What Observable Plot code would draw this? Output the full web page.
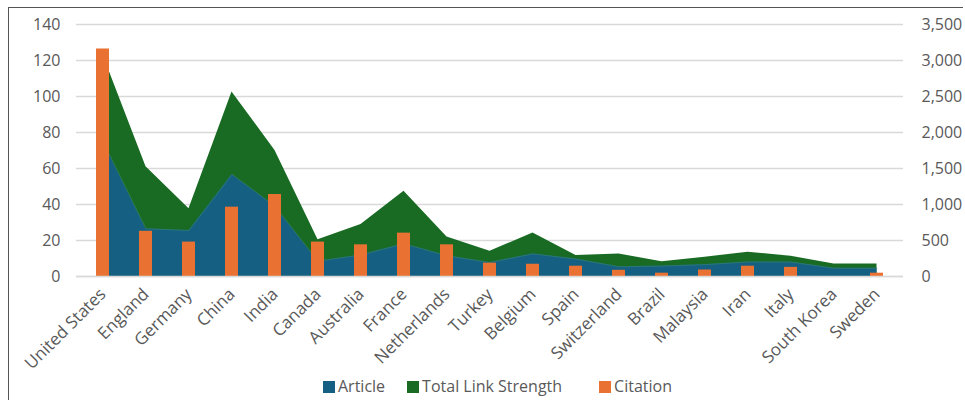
<!DOCTYPE html>
<html>
<head>
<meta charset="utf-8">
<script src="https://cdn.jsdelivr.net/npm/d3@7"></script>
<script src="https://cdn.jsdelivr.net/npm/@observablehq/plot@0.6"></script>
<style>
  html, body { margin: 0; padding: 0; background: #fff; }
  #frame { position: absolute; left: 8px; top: 7px; width: 955px; height: 400px;
           border-top: 1px solid #555; border-left: 1px solid #555; box-sizing: border-box; }
  #chart { position: absolute; left: 0; top: 0; }
  #legend { position: absolute; left: 15px; top: 376px; width: 965px; text-align: center; white-space: nowrap;
            font-family: "Open Sans", "Noto Sans", sans-serif; font-size: 16px; color: #595959; line-height: 20px; }
  #legend span.item { display: inline-block; }
  #legend span.sw { display: inline-block; width: 12px; height: 12px; margin-right: 3px; vertical-align: -1px; }
</style>
</head>
<body>
<div id="frame"></div>
<div id="chart"></div>
<div id="legend"></div>
<script>
const countries = ["United States","England","Germany","China","India","Canada","Australia","France","Netherlands","Turkey","Belgium","Spain","Switzerland","Brazil","Malaysia","Iran","Italy","South Korea","Sweden"];
const article = [75, 26.5, 25.6, 56.7, 39, 8.5, 12, 18.2, 11.5, 7.8, 12.6, 9.7, 5.4, 5.8, 6.6, 8.1, 8, 4.6, 4.6];
const totalLinkStrength = [123, 61, 37.6, 102.5, 70, 20.4, 28.9, 47.4, 21.9, 14, 24.2, 11.6, 12.5, 8.2, 10.7, 13.5, 11.2, 7, 7];
const citation = [3160, 628, 478, 963, 1139, 478, 440, 602, 440, 185, 170, 143, 86, 46, 90, 143, 127, 0, 46];
const leftTicks = [0, 20, 40, 60, 80, 100, 120, 140];
const rightMax = 3500, leftMax = 140;
const ratio = rightMax / leftMax;

const colors = {article: "#156082", tls: "#196B24", citation: "#E97132"};

const rows = countries.map((c, i) => ({country: c, article: article[i], tls: totalLinkStrength[i], citation: citation[i]}));

const plot = Plot.plot({
  width: 965,
  height: 374,
  marginLeft: 76,
  marginRight: 62,
  marginTop: 24,
  marginBottom: 98,
  style: {fontFamily: "'Open Sans', 'Noto Sans', sans-serif", fontSize: "16px", color: "#595959", background: "transparent"},
  x: {type: "band", domain: countries, padding: 0, label: null},
  y: {domain: [0, leftMax], label: null},
  marks: [
    Plot.gridY(leftTicks, {stroke: "#d9d9d9", strokeOpacity: 1, strokeWidth: 1.5}),
    Plot.areaY(rows, {x: "country", y: "tls", fill: colors.tls}),
    Plot.areaY(rows, {x: "country", y: "article", fill: colors.article}),
    Plot.lineY(rows, {x: "country", y: "article", stroke: "#3c8a6a", strokeWidth: 0.8, strokeOpacity: 0.7}),
    Plot.barY(rows, {x: "country", y: d => d.citation / ratio, fill: colors.citation, insetLeft: 15, insetRight: 15}),
    Plot.axisY(leftTicks, {anchor: "left", tickSize: 0, tickPadding: 16, fontSize: 16}),
    Plot.axisY(leftTicks, {anchor: "right", tickSize: 0, tickPadding: 18, textAnchor: "start", fontSize: 16,
      tickFormat: d => d3.format(",")(d * ratio)}),
    Plot.axisX({tickSize: 0, tickRotate: -45, tickPadding: 15, fontSize: 17, letterSpacing: 0.4}),
    Plot.ruleY([0], {stroke: "#d9d9d9", strokeWidth: 1.5})
  ]
});
document.getElementById("chart").appendChild(plot);

const legendItems = [["Article", colors.article, 22], ["Total Link Strength", colors.tls, 37], ["Citation", colors.citation, 0]];
const legend = document.getElementById("legend");
legendItems.forEach(([name, col, gap]) => {
  const item = document.createElement("span");
  item.className = "item";
  item.style.marginRight = gap + "px";
  const sw = document.createElement("span");
  sw.className = "sw";
  sw.style.background = col;
  item.appendChild(sw);
  item.appendChild(document.createTextNode(name));
  legend.appendChild(item);
});
</script>
</body>
</html>
